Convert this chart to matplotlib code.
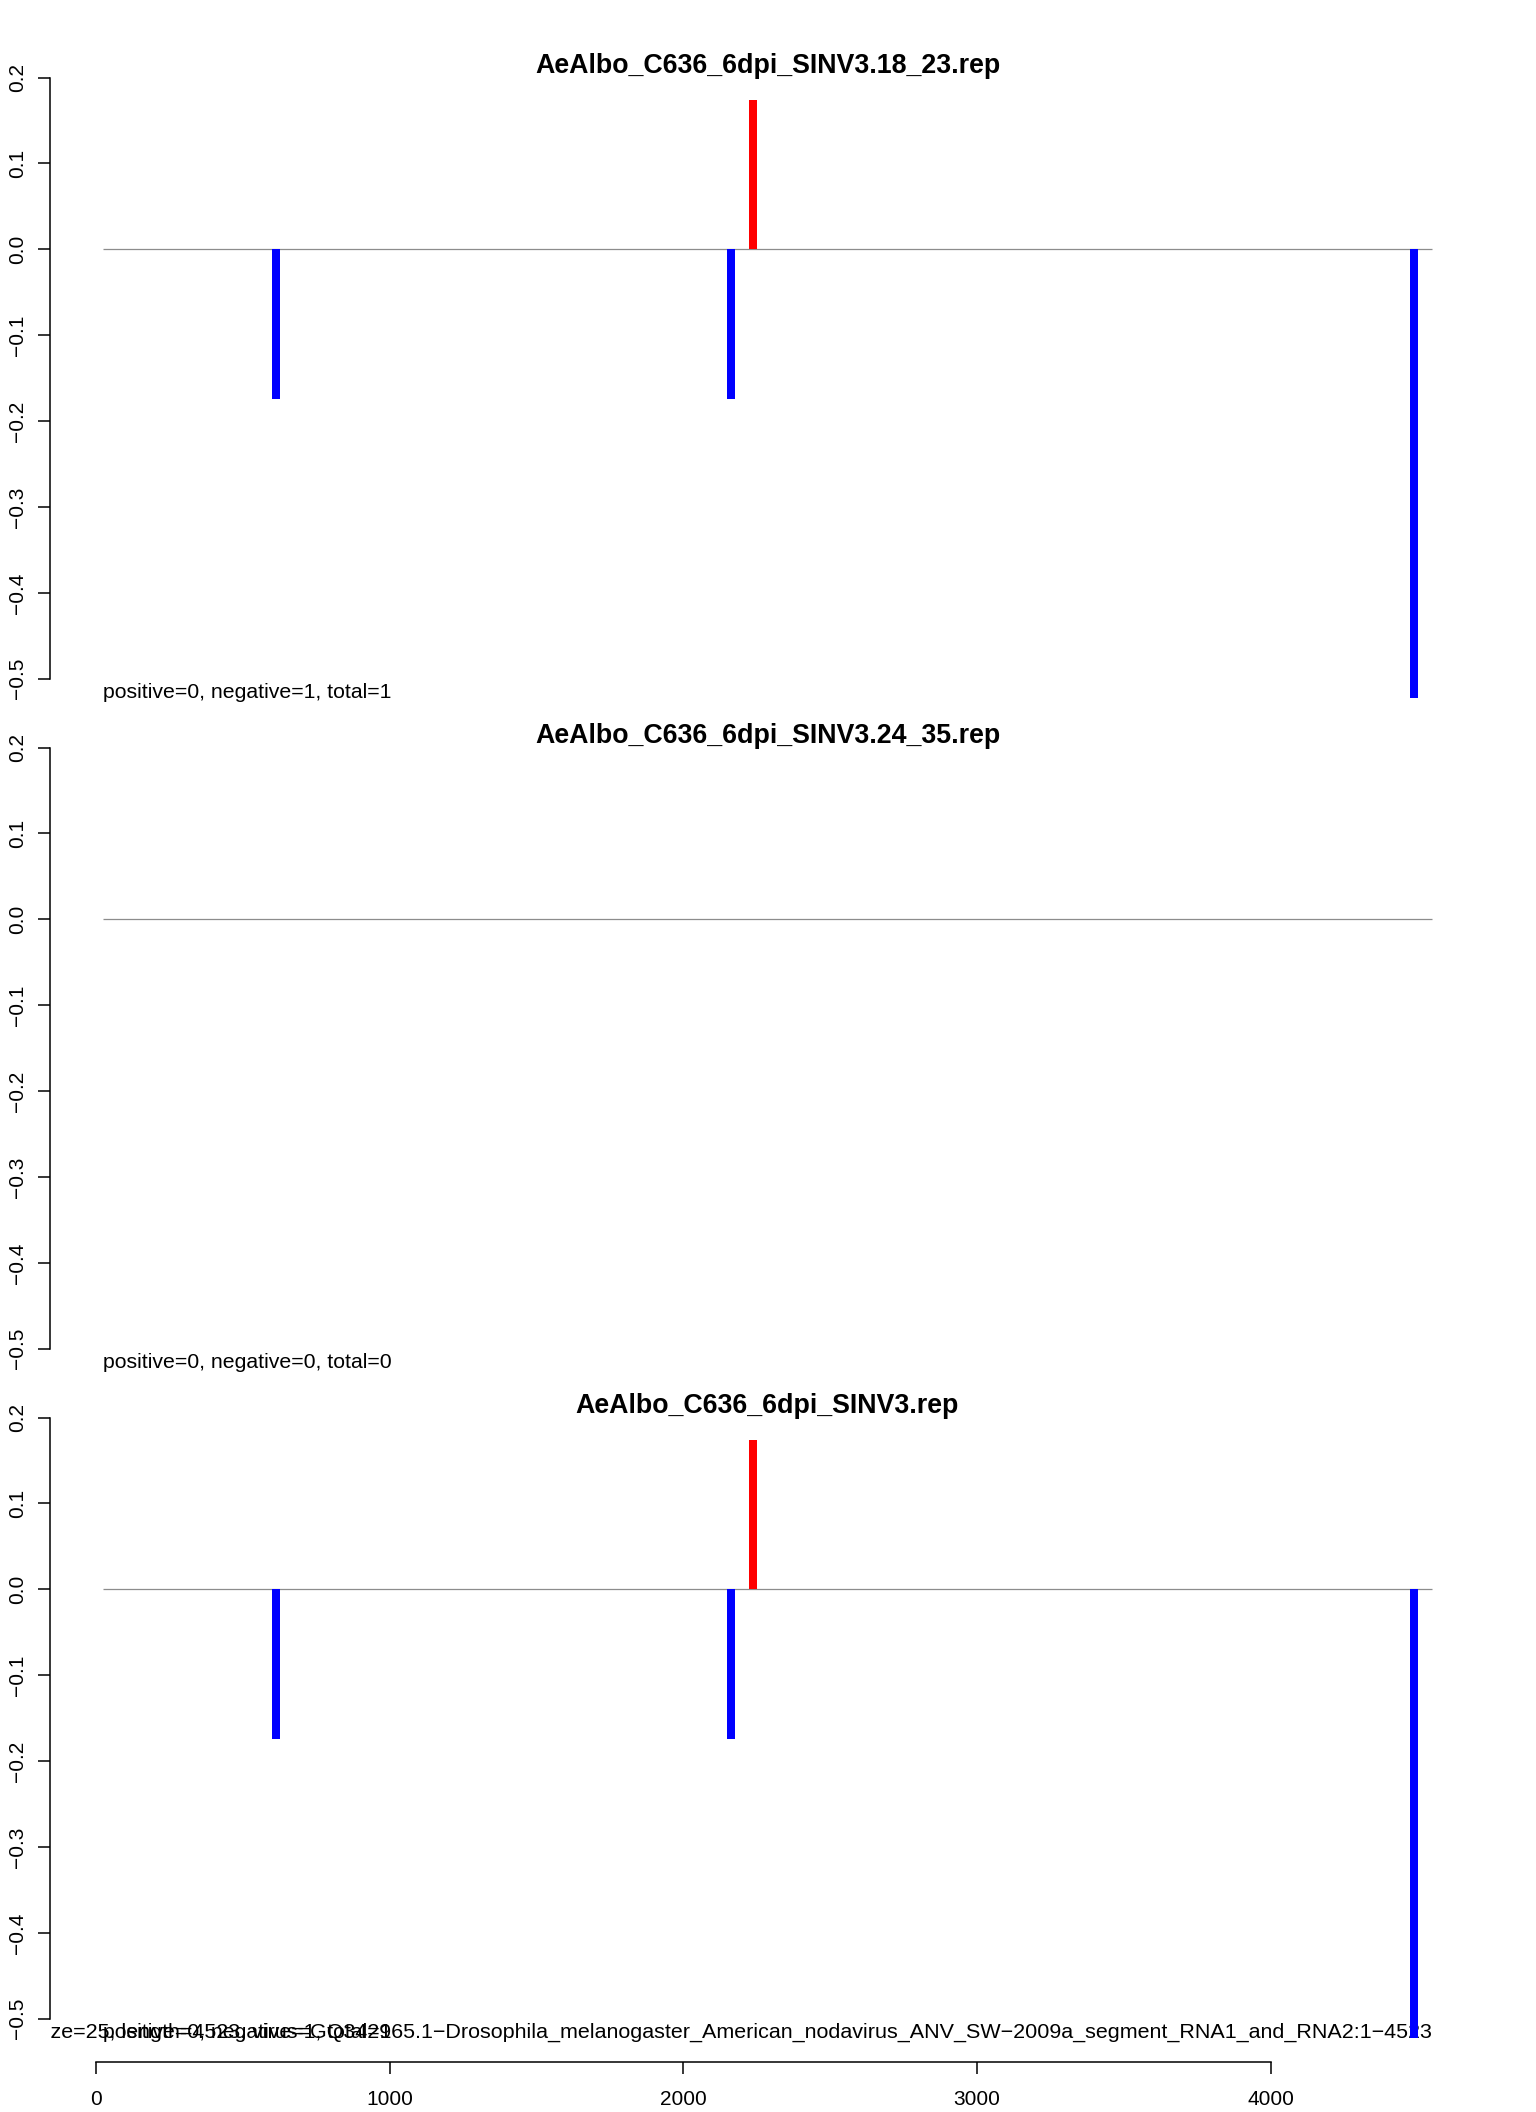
import matplotlib
matplotlib.use('Agg')
import matplotlib.pyplot as plt

plt.rcParams['font.family'] = ['Liberation Sans', 'DejaVu Sans']

# ---------------- data ----------------
titles = ["AeAlbo_C636_6dpi_SINV3.18_23.rep",
          "AeAlbo_C636_6dpi_SINV3.24_35.rep",
          "AeAlbo_C636_6dpi_SINV3.rep"]
positions = [[614, 2163, 2238, 4487],
             [],
             [614, 2163, 2238, 4487]]
values = [[-0.174, -0.174, 0.174, -0.522],
          [],
          [-0.174, -0.174, 0.174, -0.522]]
positive_counts = [0, 0, 0]
negative_counts = [1, 0, 1]
total_counts = [1, 0, 1]
size = 25
length = 4523
virus = "GQ342965.1\u2212Drosophila_melanogaster_American_nodavirus_ANV_SW\u22122009a_segment_RNA1_and_RNA2"
yticks = [-0.5, -0.4, -0.3, -0.2, -0.1, 0.0, 0.1, 0.2]
ytick_labels = ["\u22120.5", "\u22120.4", "\u22120.3", "\u22120.2", "\u22120.1", "0.0", "0.1", "0.2"]
xticks = [0, 1000, 2000, 3000, 4000]
ylim_data = (-0.522, 0.174)

# ---------------- layout ----------------
W, H = 1536, 2112
fig = plt.figure(figsize=(W / 100, H / 100), dpi=100)

left_px, width_px = 50, 1435
top0, height_px, step = 76, 645.5, 670
body_fs = 15.35
info_fs = 15.45
title_fs = 19.3

x0, x1 = size, size + length
xext = 0.04 * (x1 - x0)
yext = 0.04 * (ylim_data[1] - ylim_data[0])

for i in range(3):
    top = top0 + step * i
    ax = fig.add_axes([left_px / W, 1 - (top + height_px) / H, width_px / W, height_px / H])
    ax.set_xlim(x0 - xext, x1 + xext)
    ax.set_ylim(ylim_data[0] - yext, ylim_data[1] + yext)

    ax.hlines(0, x0, x1, color='#8c8c8c', linewidth=0.9, zorder=2)
    if positions[i]:
        cols = ['red' if v > 0 else 'blue' for v in values[i]]
        lc = ax.vlines(positions[i], 0, values[i], colors=cols, linewidth=5.76, zorder=4)
        lc.set_capstyle('butt')

    ax.text(0.5, 1 + 10 / height_px, titles[i], transform=ax.transAxes,
            ha='center', va='center', fontsize=title_fs, fontweight='bold')
    ax.text(x0, -0.516, f"positive={positive_counts[i]}, negative={negative_counts[i]}, total={total_counts[i]}",
            ha='left', va='center', fontsize=body_fs, zorder=3)

    for s in ['top', 'right']:
        ax.spines[s].set_visible(False)
    ax.spines['left'].set_bounds(-0.5, 0.2)
    ax.spines['left'].set_linewidth(1.1)
    ax.set_yticks(yticks)
    ax.set_yticklabels(ytick_labels)
    ax.tick_params(axis='y', direction='out', length=8.6, width=1.1, labelsize=15, pad=8)
    for lbl in ax.get_yticklabels():
        lbl.set_rotation(90)
        lbl.set_va('center')
        lbl.set_ha('right')

    if i == 2:
        ax.spines['bottom'].set_bounds(0, 4000)
        ax.spines['bottom'].set_linewidth(1.1)
        ax.set_xticks(xticks)
        ax.set_xticklabels([str(t) for t in xticks])
        ax.tick_params(axis='x', direction='out', length=8.6, width=1.1, labelsize=15, pad=12)
        ax.text(x1, -0.516, f"size={size}, length={length}, virus={virus}:1\u2212{length}",
                ha='right', va='center', fontsize=info_fs, zorder=3, clip_on=True)
    else:
        ax.spines['bottom'].set_visible(False)
        ax.set_xticks([])

fig.savefig('out.png', dpi=100)
